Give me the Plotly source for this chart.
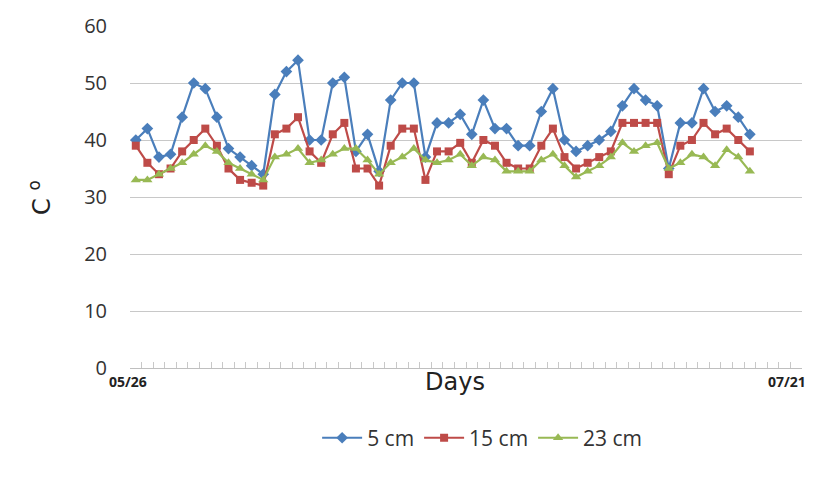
import pandas as pd
import plotly.graph_objects as go

# Soil temperature readings (°C) at three depths, one value per day from 05/26
depth_5cm = [40, 42, 37, 37.5, 44, 50, 49, 44, 38.5, 37, 35.5, 34, 48, 52, 54, 40, 40, 50,
             51, 38, 41, 34.5, 47, 50, 50, 37, 43, 43, 44.5, 41, 47, 42, 42, 39, 39, 45,
             49, 40, 38, 39, 40, 41.5, 46, 49, 47, 46, 35, 43, 43, 49, 45, 46, 44, 41]
depth_15cm = [39, 36, 34, 35, 38, 40, 42, 39, 35, 33, 32.5, 32, 41, 42, 44, 38, 36, 41,
              43, 35, 35, 32, 39, 42, 42, 33, 38, 38, 39.5, 36, 40, 39, 36, 35, 35, 39,
              42, 37, 35, 36, 37, 38, 43, 43, 43, 43, 34, 39, 40, 43, 41, 42, 40, 38]
depth_23cm = [33, 33, 34, 35, 36, 37.5, 39, 38, 36, 35, 34, 33, 37, 37.5, 38.5, 36, 36.5, 37.5,
              38.5, 38.5, 36.5, 34, 36, 37, 38.5, 36.5, 36, 36.5, 37.5, 35.5, 37, 36.5, 34.5, 34.5, 34.5, 36.5,
              37.5, 35.5, 33.5, 34.5, 35.5, 37, 39.5, 38, 39, 39.5, 35, 36, 37.5, 37, 35.5, 38.3, 37, 34.5]

# Daily categories spanning the whole axis (the last few days carry no readings)
all_days = [d.strftime("%m/%d") for d in pd.date_range("2000-05-26", periods=58, freq="D")]
days = all_days[:len(depth_5cm)]
first_label, last_label = "05/26", "07/21"

y_ticks = [0, 10, 20, 30, 40, 50, 60]

series = [
    ("5 cm", depth_5cm, "#4A7EBB", "diamond", 9),
    ("15 cm", depth_15cm, "#BE4B48", "square", 8),
    ("23 cm", depth_23cm, "#98B954", "triangle-up", 9),
]

fig = go.Figure()
for name, vals, color, symbol, size in series:
    fig.add_trace(go.Scatter(
        x=days, y=vals, name=name, mode="lines+markers",
        line=dict(color=color, width=2.2),
        marker=dict(symbol=symbol, size=size, color=color),
    ))

label_font = "DejaVu Sans, Liberation Sans, sans-serif"

fig.update_layout(
    width=835, height=489,
    margin=dict(l=130, r=33, t=22, b=121),
    paper_bgcolor="white", plot_bgcolor="white",
    font=dict(family="Open Sans, Liberation Sans, sans-serif", color="#333333"),
    showlegend=True,
    legend=dict(
        orientation="h", x=0.524, xanchor="center", y=-0.205, yanchor="middle",
        font=dict(size=21, color="#333333"), itemwidth=40,
        tracegroupgap=0,
    ),
    xaxis=dict(
        type="category", categoryorder="array", categoryarray=all_days,
        range=[-0.5, len(all_days) - 0.5], dtick=1,
        showticklabels=False, showgrid=False,
        showline=True, linecolor="#BFBFBF", linewidth=1,
        ticks="inside", ticklen=6, tickcolor="#C8C8C8", tickson="boundaries",
        zeroline=False,
    ),
    yaxis=dict(
        range=[0, 60], tickvals=y_ticks, ticks="",
        showgrid=True, gridcolor="#C8C8C8", gridwidth=1,
        zeroline=False, showline=False,
        tickfont=dict(size=20, color="#333333"),
        ticklabelstandoff=22,
    ),
    annotations=[
        dict(text="C <sup>o</sup>", textangle=-90, xref="paper", yref="paper",
             x=-0.134, y=0.5, xanchor="center", yanchor="middle", showarrow=False,
             font=dict(family=label_font, size=24, color="#222222")),
        dict(text="Days", xref="paper", yref="paper", x=0.484, y=-0.04,
             xanchor="center", yanchor="middle", showarrow=False,
             font=dict(family=label_font, size=24, color="#222222")),
        dict(text="<b>" + first_label + "</b>", xref="paper", yref="paper", x=-0.003, y=-0.04,
             xanchor="center", yanchor="middle", showarrow=False,
             font=dict(family="Open Sans, sans-serif", size=14, color="#222222")),
        dict(text="<b>" + last_label + "</b>", xref="paper", yref="paper", x=0.978, y=-0.04,
             xanchor="center", yanchor="middle", showarrow=False,
             font=dict(family="Open Sans, sans-serif", size=14, color="#222222")),
    ],
)

fig.write_html("out.html")
